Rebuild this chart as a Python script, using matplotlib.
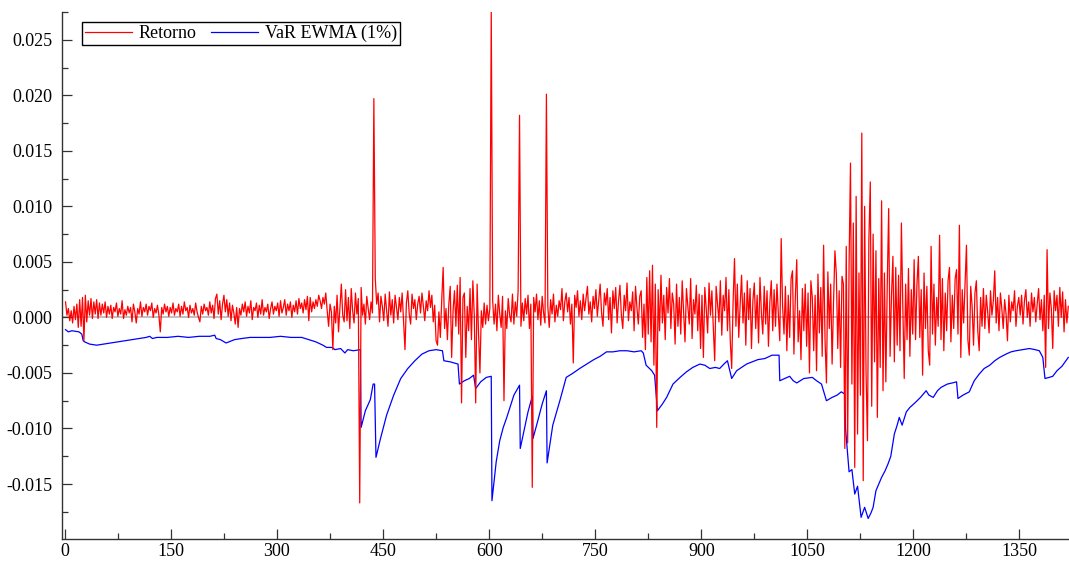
import numpy as np
import matplotlib
matplotlib.use("Agg")
import matplotlib.pyplot as plt
from matplotlib.ticker import MultipleLocator, FormatStrFormatter

ret_e4 = [
    14, 2, 8, -3, 6, -5, 10, -2, 12, -9, 16, -8, 18, -21, 20, -4, 15, 2, 17, -1, 14, 3, 16, -1, 13,
    2, 12, 4, 14, 0, 10, 3, 11, -1, 9, 5, 13, 1, 8, 3, 15, -1, 7, 2, 10, 4, 9, -4, 12, 5,
    -5, 8, 3, 14, 1, 9, 5, 12, 2, 10, 6, 13, 0, 8, 4, 11, 2, -13, 9, 3, 12, 5, 10, 1, 9,
    4, 13, 2, 8, 5, 12, 1, 10, 3, 14, 6, 9, 0, 11, 4, 8, 2, 13, 5, 0, -4, 10, 3, 12, 6,
    9, 2, 14, 4, 11, -1, 17, 21, 3, 15, -2, 12, 20, 5, 16, 1, 13, -3, 11, 4, -6, 9, -9, 8, 2,
    12, 5, 14, 1, 10, 4, 15, -2, 9, 6, 13, 0, 11, 3, 16, 2, 9, 5, 12, -1, 8, 14, 3, 10, 6,
    13, 1, 15, 4, 9, 16, 2, 12, 6, 14, 0, 11, 5, 15, 3, 17, 8, 13, 4, 16, 7, 19, -3, 18, 5,
    14, 8, 16, 10, 20, 15, 8, 18, 12, 22, 6, -8, 12, 5, -29, 10, -5, 20, -13, 8, 30, 2, -4, 25, -3,
    18, -10, 26, 6, -5, 22, 3, 17, -167, 27, 2, 12, -6, 19, 8, -2, 14, 4, 197, 35, 12, 22, -4, 19, 10,
    -3, 21, 7, -8, 23, 2, 16, -5, 20, 9, -2, 18, 5, 22, -4, -29, 13, 24, 3, -6, 21, 8, 16, -2, 12,
    19, 4, 22, 10, -3, 15, 6, 24, 9, 20, -4, 11, -21, -25, 5, -18, 16, 45, -10, 8, -20, 12, 28, -36, 6,
    24, -8, 29, -15, 36, -77, 18, 22, -36, 10, -12, 26, -20, 33, 2, -77, 30, -14, -50, 6, -9, 13, -6, 11, -3,
    8, 275, 15, -6, 12, -12, 20, 3, -9, 19, -75, 6, -10, 17, 2, -4, 21, -6, 14, 1, 24, 182, -8, 13, -3,
    17, 3, 20, -10, 12, -153, 18, 5, 21, -2, 15, -7, 19, 4, -5, 201, 10, -9, 16, 3, 21, -4, 11, 1, 15,
    7, 26, -3, 14, 22, 5, 18, -6, 12, -41, 20, 9, 24, 1, 15, -2, 21, 6, 17, 28, 3, 14, -4, 19, 8,
    25, 1, 16, 30, 4, -8, 22, 11, 26, -2, 18, -14, 24, 8, 27, -5, 15, 29, 2, -10, 20, 6, 31, -3, 14,
    6, 23, -12, 28, 9, -6, 19, 24, -18, 12, -29, 36, -15, 42, -22, 47, -43, 30, -99, 25, -12, 38, -5, 20, -20,
    27, 4, 35, -10, 22, 12, -24, 30, -8, 18, -15, 33, 5, -22, 26, 10, -6, 35, -19, 16, 3, 29, -12, 21, -28,
    20, -36, 27, 8, -14, 31, 2, 24, -9, -39, 28, 12, -4, 33, -16, 20, 6, 36, -12, 25, -21, -46, 14, 53, -8,
    30, -18, 12, 38, -5, 22, -25, 33, -2, 26, -28, 15, 31, -10, 20, -23, 36, 4, -15, 28, -6, 24, -26, 14, 33,
    -12, 25, -8, 30, 3, -21, 71, 10, -15, 28, -30, 20, -18, 35, 42, -33, 18, 52, -22, 6, -38, 26, -12, 30, -26,
    22, -50, 33, 18, -30, 20, -48, 39, -14, 27, -35, 65, -20, -59, 41, -10, 30, -42, 13, 60, 39, -28, 24, -45, 37,
    30, -118, 64, -113, 48, 139, -60, 85, -135, 109, -105, 40, -70, 166, -147, 100, -50, -111, 70, 122, -80, 75, -40, 60, -90,
    35, -45, 105, -66, 40, -58, 30, 98, -35, 20, 55, -40, 45, -25, 38, -30, 85, 10, -55, 30, -20, 44, -35, 25, -15,
    52, -20, 30, 55, -18, 25, -52, 40, -10, 28, -30, -43, 64, -15, 30, -25, 18, -8, 74, -20, 35, -30, 22, -12, 33,
    45, -22, 20, -10, 35, 43, -15, 83, -36, 25, -5, 30, 65, -20, -34, 28, 10, -25, 22, 33, -12, -30, 18, -8, 26,
    -10, 20, 5, -14, 24, 2, 15, 42, -5, 18, -12, 22, 8, -10, 16, 3, -21, 20, -4, 14, 6, 24, -8, 10, 18,
    2, 20, -6, 15, 25, 0, 14, -8, 22, 5, 18, -4, 12, 26, -2, 16, -12, 20, -45, 61, -10, 22, 8, -28, 24,
    6, 20, -8, 27, 0, 23, -13, 16, -5, 10,
]
ret_obs = np.arange(1, 1421, 2)

# VaR EWMA (1%) (x 1e-4), read at the turning points of the blue line
var_obs = [1, 5, 10, 20, 24, 26, 28, 35, 45, 55, 65, 75, 85, 95, 105, 115, 120, 124, 130, 145,
           160, 175, 190, 205, 212, 214, 220, 228, 232, 240, 250, 262, 275, 290, 305, 320, 335, 345, 355, 365,
           370, 378, 382, 390, 396, 400, 408, 418, 419, 425, 432, 436, 438, 440, 446, 455, 465, 475, 485, 495,
           505, 515, 525, 534, 536, 545, 556, 558, 565, 572, 578, 581, 588, 596, 603, 604, 610, 615, 620, 625,
           630, 635, 643, 644, 650, 655, 661, 662, 668, 675, 681, 682, 690, 700, 709, 719, 728, 738, 748, 757,
           766, 775, 785, 795, 805, 815, 818, 822, 830, 834, 838, 845, 851, 860, 870, 879, 888, 898, 905, 912,
           920, 926, 932, 937, 943, 950, 957, 964, 972, 980, 990, 1000, 1010, 1011, 1018, 1025, 1030, 1035, 1045, 1057,
           1063, 1070, 1077, 1085, 1092, 1098, 1103, 1104, 1109, 1113, 1117, 1121, 1126, 1131, 1136, 1140, 1143, 1147, 1151, 1155,
           1160, 1164, 1168, 1173, 1177, 1180, 1184, 1190, 1195, 1202, 1210, 1218, 1222, 1228, 1234, 1239, 1248, 1255, 1261, 1263,
           1270, 1279, 1286, 1293, 1300, 1308, 1315, 1322, 1331, 1338, 1345, 1355, 1364, 1372, 1378, 1383, 1386, 1392, 1397, 1403,
           1410, 1419]
var_e4 = [-11, -13, -12, -13, -15, -21, -22, -24, -25, -24, -23, -22, -21, -20, -19, -18, -17, -19, -18, -18,
          -17, -18, -17, -17, -16, -19, -20, -23, -22, -20, -19, -18, -18, -18, -17, -18, -18, -20, -22, -25,
          -27, -27, -29, -28, -32, -29, -30, -29, -99, -84, -74, -60, -60, -126, -110, -88, -70, -55, -46, -39,
          -33, -30, -29, -30, -39, -40, -42, -60, -57, -55, -52, -64, -58, -54, -53, -165, -130, -111, -99, -90,
          -80, -70, -61, -118, -100, -85, -71, -109, -95, -78, -66, -131, -97, -75, -54, -50, -46, -42, -38, -35,
          -31, -31, -30, -30, -31, -30, -32, -43, -48, -52, -84, -78, -72, -60, -54, -49, -45, -42, -43, -46,
          -45, -46, -42, -39, -55, -48, -45, -42, -40, -38, -37, -34, -34, -57, -55, -53, -57, -59, -55, -54,
          -57, -60, -75, -72, -70, -67, -69, -100, -139, -137, -159, -152, -180, -171, -181, -176, -171, -156, -150, -144,
          -138, -132, -125, -105, -97, -90, -97, -85, -81, -77, -72, -66, -70, -72, -66, -63, -60, -59, -58, -73,
          -70, -67, -57, -51, -46, -43, -39, -36, -33, -31, -30, -29, -28, -29, -30, -36, -55, -54, -53, -48,
          -44, -36]

ret = np.array(ret_e4) * 1e-4
var = np.array(var_e4) * 1e-4

plt.rcParams['font.family'] = ['Liberation Serif', 'DejaVu Serif']
plt.rcParams['axes.unicode_minus'] = False

fig = plt.figure(figsize=(10.69, 5.63), dpi=100)
ax = fig.add_axes([62 / 1069, 1 - 539 / 563, 1007 / 1069, 527 / 563])

ax.axhline(0, color='#b4b4b4', lw=1.2, zorder=1)
ax.plot(ret_obs, ret, color='#ff0000', lw=0.9, label='Retorno', zorder=3)
ax.plot(var_obs, var, color='#0000ff', lw=0.9, label='VaR EWMA (1%)', zorder=2)

ax.set_xlim(-4, 1420)
ax.set_ylim(-0.01995, 0.0275)

ax.xaxis.set_major_locator(MultipleLocator(150))
ax.xaxis.set_minor_locator(MultipleLocator(75))
ax.yaxis.set_major_locator(MultipleLocator(0.005))
ax.yaxis.set_minor_locator(MultipleLocator(0.0025))
ax.yaxis.set_major_formatter(FormatStrFormatter('%.3f'))

for s in ['top', 'right']:
    ax.spines[s].set_visible(False)
for s in ['left', 'bottom']:
    ax.spines[s].set_color('#333333')
    ax.spines[s].set_linewidth(1.0)

ax.tick_params(which='major', direction='in', length=7, width=0.9, color='#333333',
               labelsize=13)
ax.tick_params(which='minor', direction='in', length=4, width=0.9, color='#333333')
ax.tick_params(axis='y', which='major', pad=7)
ax.tick_params(axis='x', which='major', pad=3)

leg = ax.legend(loc='upper left', bbox_to_anchor=(0.0199, 0.981), borderaxespad=0,
                ncol=2, fontsize=13, frameon=True, fancybox=False, framealpha=1,
                edgecolor='black', handlelength=2.6, handletextpad=0.4,
                columnspacing=0.8, borderpad=0.15)
leg.get_frame().set_linewidth(1.0)

fig.savefig('out.png', dpi=100, facecolor='white')
